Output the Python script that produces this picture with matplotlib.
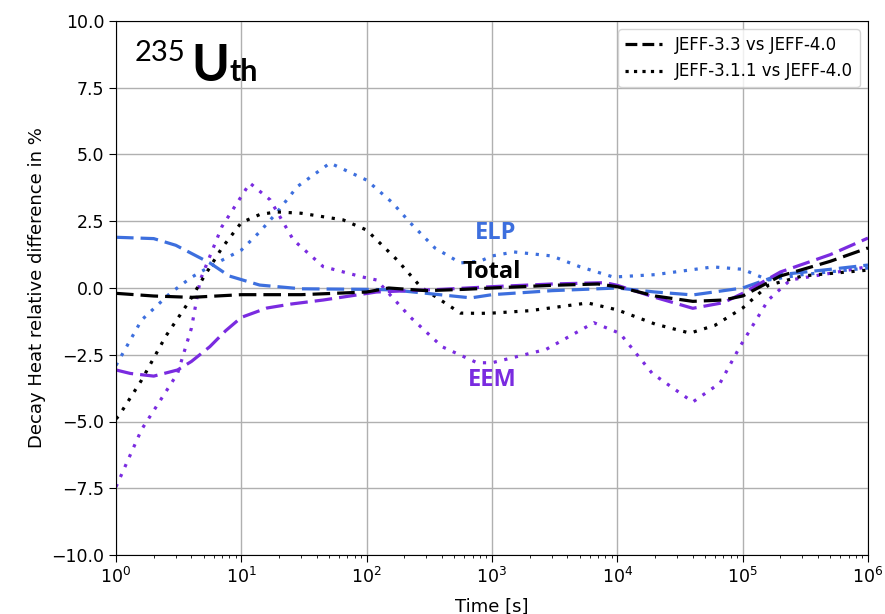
import numpy as np
import matplotlib
matplotlib.use("Agg")
import matplotlib.pyplot as plt

# ── data (time in s, relative difference in %) ──────────────────────────────
t_tot_33 = [1, 2, 4, 10, 30, 100, 150, 300, 600, 1000, 3000, 7000, 1e4, 2e4, 4e4, 7e4, 1e5, 2e5, 5e5, 1e6]
y_tot_33 = [-0.2, -0.3, -0.35, -0.25, -0.25, -0.15, 0.0, -0.1, -0.05, 0.0, 0.1, 0.15, 0.05, -0.3, -0.5, -0.45, -0.3, 0.45, 1.0, 1.5]

t_tot_311 = [1, 1.05, 1.6, 2.5, 3.9, 5, 7, 10, 14, 19, 30, 65, 100, 175, 270, 560, 800, 1000, 2000, 5800, 1e4, 2e4, 3.8e4, 6e4, 1e5, 1.6e5, 3e5, 1e6]
y_tot_311 = [-4.9, -4.8, -3.45, -1.8, -0.45, 0.4, 1.5, 2.45, 2.75, 2.85, 2.8, 2.55, 2.17, 1.05, 0.04, -0.94, -0.95, -0.94, -0.85, -0.56, -0.82, -1.35, -1.69, -1.4, -0.75, 0.1, 0.45, 0.67]

t_elp_33 = [1, 2, 3, 5.6, 8, 14, 30, 100, 160, 300, 680, 1000, 3000, 1e4, 2e4, 4e4, 1e5, 2e5, 5e5, 1e6]
y_elp_33 = [1.9, 1.85, 1.6, 0.94, 0.45, 0.11, -0.03, -0.05, -0.07, -0.2, -0.37, -0.25, -0.1, 0.0, -0.15, -0.26, 0.0, 0.5, 0.7, 0.86]

t_eem_33 = [1, 1.3, 2, 3.1, 4, 5.6, 7.5, 10, 16, 25, 45, 120, 400, 1000, 3000, 8000, 1e4, 2e4, 4e4, 7e4, 1e5, 2e5, 5e5, 1e6]
y_eem_33 = [-3.07, -3.2, -3.3, -3.07, -2.75, -2.2, -1.6, -1.1, -0.75, -0.6, -0.45, -0.15, -0.05, 0.05, 0.15, 0.2, 0.1, -0.35, -0.76, -0.55, -0.2, 0.6, 1.25, 1.87]

t_elp_311 = [1, 1.6, 2.7, 4, 5.6, 10, 14, 19, 28, 51, 100, 160, 224, 350, 560, 800, 1000, 1500, 3000, 5000, 9300, 2e4, 5.8e4, 1e5, 1.6e5, 3e5, 1e6]
y_elp_311 = [-2.9, -1.2, -0.2, 0.4, 0.8, 1.42, 2.1, 2.8, 3.8, 4.68, 4.04, 3.2, 2.43, 1.5, 0.94, 1.0, 1.2, 1.35, 1.2, 0.8, 0.41, 0.5, 0.79, 0.7, 0.3, 0.5, 0.75]

t_eem_311 = [1, 1.6, 3.1, 4, 4.7, 7, 11.7, 17, 26, 45, 93, 120, 224, 400, 760, 1000, 2700, 6500, 1.05e4, 1.9e4, 4e4, 6.6e4, 9.5e4, 1.6e5, 2.4e5, 5e5, 1e6]
y_eem_311 = [-7.45, -5.3, -3.2, -1.5, 0.3, 2.3, 3.93, 3.3, 1.8, 0.8, 0.41, 0.3, -1.1, -2.2, -2.8, -2.8, -2.3, -1.3, -1.7, -3.2, -4.27, -3.56, -2.2, -0.45, 0.3, 0.55, 0.8]

BLUE   = "#3d6fde"
PURPLE = "#7a2be0"
DOT    = (0, (1, 2.4))
DASH   = (0, (5.5, 2.2))

# ─────────────────────────────────────────────────────────────────────────────
fig = plt.figure(figsize=(8.85, 6.14), dpi=100)
ax  = fig.add_axes([116 / 885, 59 / 614, 752 / 885, 534 / 614])

ax.plot(t_elp_311, y_elp_311, ls=DOT, color=BLUE,    lw=2.3)
ax.plot(t_eem_311, y_eem_311, ls=DOT, color=PURPLE,  lw=2.3)
ax.plot(t_tot_311, y_tot_311, ls=DOT, color="black", lw=2.3)
ax.plot(t_elp_33,  y_elp_33,  ls=DASH, color=BLUE,    lw=2.3)
ax.plot(t_eem_33,  y_eem_33,  ls=DASH, color=PURPLE,  lw=2.3)
ax.plot(t_tot_33,  y_tot_33,  ls=DASH, color="black", lw=2.3)

# legend handles (black only)
ax.plot([], [], "--", color="black", lw=2.3, label="JEFF-3.3 vs JEFF-4.0")
ax.plot([], [], ":",  color="black", lw=2.3, label="JEFF-3.1.1 vs JEFF-4.0")
ax.legend(loc="upper right", fontsize=12, handlelength=2.2, framealpha=0.8)

ax.set_xscale("log")
ax.set_xlim(1, 1e6)
ax.set_ylim(-10, 10)
ax.set_yticks(np.arange(-10, 10.1, 2.5))
ax.grid(True, which="major", color="#b0b0b0", lw=1)
ax.tick_params(labelsize=12.5, length=5)
ax.set_xlabel("Time [s]", fontsize=13, labelpad=8)
ax.set_ylabel("Decay Heat relative difference in %", fontsize=13)

# curve labels
lab_kw = dict(fontsize=17, fontweight="bold", family="Open Sans", ha="center", va="center")
ax.text(1060, 2.06, "ELP", color=BLUE, **lab_kw)
ax.text(1000, 0.6, "Total", color="black", **lab_kw)
ax.text(1000, -3.45, "EEM", color=PURPLE, **lab_kw)

# isotope tag
fig.text(135 / 885, 1 - 61 / 614, "235", fontsize=21, family="Lato", va="baseline")
fig.text(191 / 885, 1 - 81 / 614, "U", fontsize=37, family="Lato", fontweight="bold", va="baseline")
fig.text(230 / 885, 1 - 81 / 614, "th", fontsize=22, family="Lato", fontweight="bold", va="baseline")

plt.savefig("out.png", dpi=100)
